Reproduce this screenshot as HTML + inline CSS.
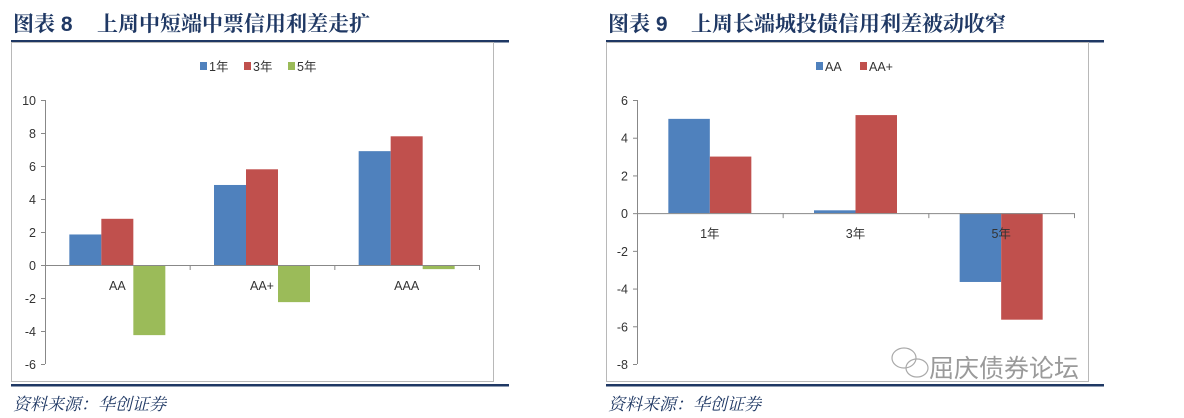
<!DOCTYPE html>
<html><head><meta charset="utf-8">
<style>
body{margin:0;width:1184px;height:418px;background:#fff;overflow:hidden;font-family:"Liberation Sans","Noto Sans CJK SC",sans-serif;}
svg{position:absolute;left:0;top:0}
</style></head>
<body>
<svg id="svg" width="1184" height="418">
  <g>
    <text x="13" y="31" font-size="21" font-weight="bold" fill="#1f3864" font-family="'Liberation Sans','Noto Serif CJK SC',serif">图表 <tspan font-family="'Liberation Sans',sans-serif">8</tspan><tspan x="97">上周中短端中票信用利差走扩</tspan></text>
    <rect x="11" y="40" width="498" height="2.5" fill="#1f3864"/>
    <rect x="11.5" y="42.5" width="482" height="339" fill="#fff" stroke="#b8b8b8"/>
    <rect x="11" y="384" width="498" height="2.5" fill="#1f3864"/>
    <text x="13" y="410" font-size="17" font-style="italic" fill="#1f3864" font-family="'Noto Serif CJK SC',serif">资料来源：华创证券</text>
  </g>
  <g>
    <text x="608" y="31" font-size="21" font-weight="bold" fill="#1f3864" font-family="'Liberation Sans','Noto Serif CJK SC',serif">图表 <tspan font-family="'Liberation Sans',sans-serif">9</tspan><tspan x="691">上周长端城投债信用利差被动收窄</tspan></text>
    <rect x="606" y="40" width="498" height="2.5" fill="#1f3864"/>
    <rect x="606.5" y="42.5" width="482" height="339" fill="#fff" stroke="#b8b8b8"/>
    <rect x="606" y="384" width="498" height="2.5" fill="#1f3864"/>
    <text x="608" y="410" font-size="17" font-style="italic" fill="#1f3864" font-family="'Noto Serif CJK SC',serif">资料来源：华创证券</text>
    <text x="929" y="377" font-size="25" fill="#9a9a9a" font-family="'Noto Sans CJK SC',sans-serif">屈庆债券论坛</text>
    <g fill="none" stroke="#aaa" stroke-width="1.2">
      <ellipse cx="904" cy="358" rx="12" ry="10"/>
      <ellipse cx="917" cy="368" rx="11" ry="9"/>
    </g>
  </g>
  <g id="left"></g>
  <g id="right"></g>
</svg>
<script>
const NS="http://www.w3.org/2000/svg";
const leftCategories=["AA","AA+","AAA"];
const leftSeriesNames=["1年","3年","5年"];
const leftS1=[1.85,4.85,6.9];
const leftS3=[2.8,5.8,7.8];
const leftS5=[-4.25,-2.25,-0.25];
const leftTicks=[10,8,6,4,2,0,-2,-4,-6];
const rightCategories=["1年","3年","5年"];
const rightSeriesNames=["AA","AA+"];
const rightAA=[5.0,0.15,-3.65];
const rightAAp=[3.0,5.2,-5.65];
const rightTicks=[6,4,2,0,-2,-4,-6,-8];
const colors=["#4f81bd","#c0504d","#9bbb59"];

function el(tag,attrs,parent){const e=document.createElementNS(NS,tag);for(const k in attrs)e.setAttribute(k,attrs[k]);parent.appendChild(e);return e;}

function chart(g,cfg){
  const {x0,x1,yTop,yBot,vMax,vMin,ticks,cats,series,names,barW,legendX,prefix}=cfg;
  const y=v=>yTop+(vMax-v)/(vMax-vMin)*(yBot-yTop);
  const cw=(x1-x0)/cats.length;
  const ax=el("line",{x1:x0+.5,y1:yTop,x2:x0+.5,y2:yBot,stroke:"#888"},g);
  
  
  ticks.forEach(t=>{
    el("line",{x1:x0-4,y1:y(t)+.5,x2:x0,y2:y(t)+.5,stroke:"#888"},g);
    const tx=el("text",{x:x0-9,y:y(t)+5,"font-size":"12.5","text-anchor":"end",fill:"#333"},g);
    tx.textContent=t;
    
    
  });
  const nS=series.length;
  cats.forEach((c,i)=>{
    const start=x0+i*cw+(cw-nS*barW)/2;
    series.forEach((s,j)=>{
      const v=s[i];
      const r=el("rect",{x:start+j*barW,y:Math.min(y(v),y(0)),width:barW,height:Math.abs(y(v)-y(0)),fill:colors[j]},g);
      
      
    });
  });
  const za=el("line",{x1:x0,y1:y(0)+.5,x2:x1,y2:y(0)+.5,stroke:"#888"},g);
  
  
  for(let i=0;i<=cats.length;i++){el("line",{x1:x0+i*cw+.5,y1:y(0),x2:x0+i*cw+.5,y2:y(0)+5,stroke:"#888"},g);}
  cats.forEach((c,i)=>{
    const tx=el("text",{x:x0+(i+.5)*cw,y:y(0)+25,"font-size":"12.5","text-anchor":"middle",fill:"#333"},g);
    tx.textContent=c;
    
    
  });
  let lx=legendX;
  names.forEach((n,j)=>{
    const lg=el("g",{},g);
    
    
    el("rect",{x:lx,y:62,width:7,height:8,fill:colors[j]},lg);
    const tx=el("text",{x:lx+9,y:71,"font-size":"12.5",fill:"#333"},lg);
    tx.textContent=n;
    lx+=9+n.length*(n.length>2?9:11)+13;
  });
}
chart(document.getElementById("left"),{prefix:"left",x0:45,x1:479,yTop:100,yBot:364,vMax:10,vMin:-6,ticks:leftTicks,cats:leftCategories,series:[leftS1,leftS3,leftS5],names:leftSeriesNames,barW:32,legendX:200});
chart(document.getElementById("right"),{prefix:"right",x0:637,x1:1074,yTop:100,yBot:364,vMax:6,vMin:-8,ticks:rightTicks,cats:rightCategories,series:[rightAA,rightAAp],names:rightSeriesNames,barW:41.5,legendX:816});
</script>
</body></html>
